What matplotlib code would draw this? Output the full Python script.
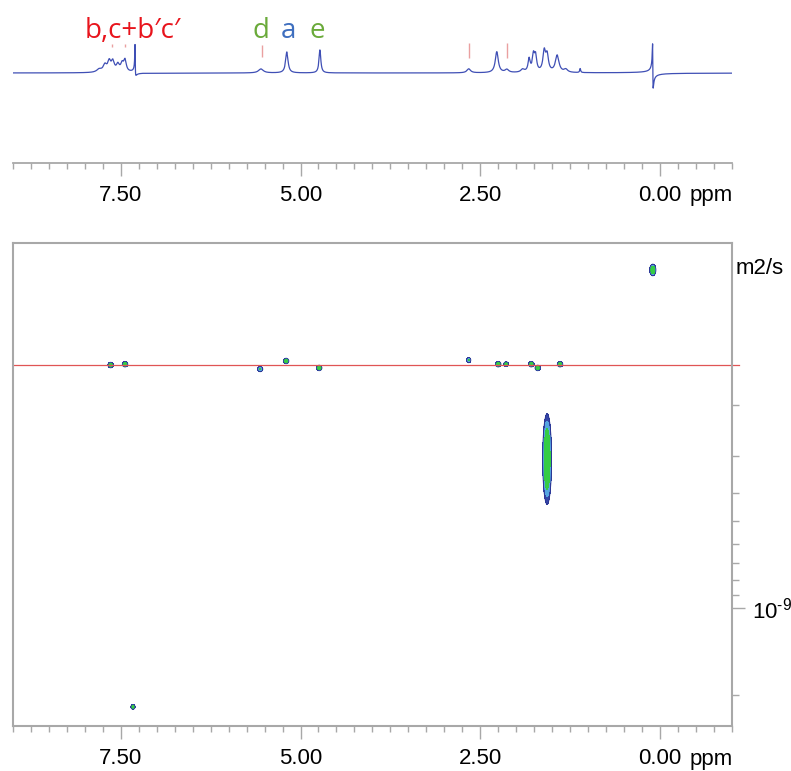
import numpy as np
import matplotlib.pyplot as plt
from matplotlib.ticker import MultipleLocator, FixedLocator, NullFormatter, FormatStrFormatter

plt.rcParams['font.family'] = ['Liberation Sans', 'DejaVu Sans']
plt.rcParams['mathtext.default'] = 'regular'

# 1D proton spectrum: peak table (ppm, height in px, half width in ppm, dispersive part)
peak_ppm = [7.80, 7.72, 7.66, 7.61, 7.54, 7.48, 7.44, 7.30, 5.55, 5.19, 4.73,
            2.66, 2.27, 2.13, 1.91, 1.82, 1.76, 1.73, 1.61, 1.57, 1.43, 1.31, 1.11, 0.10]
peak_height = [3, 7, 10, 10, 7, 8, 11, 25, 4, 21, 23,
               4, 21, 3, 3, 13, 16, 15, 20, 16, 17, 3, 4, 14]
peak_width = [0.04, 0.03, 0.025, 0.025, 0.025, 0.025, 0.02, 0.004, 0.04, 0.02, 0.015,
              0.03, 0.025, 0.03, 0.03, 0.018, 0.018, 0.018, 0.022, 0.022, 0.03, 0.03, 0.008, 0.004]
peak_disp = [0, 0, 0, 0, 0, 0, 0, 18, 0, 0, 0,
             0, 0, 0, 0, 0, 0, 0, 0, 0, 0, 0, 0, 42]

# assignment labels above the spectrum
label_text = ['b,c+b\u2032c\u2032', 'd', 'a', 'e']
label_ppm = [7.33, 5.55, 5.17, 4.77]
label_color = ['#e8141c', '#6aaa3a', '#3f6fbf', '#6aaa3a']

# pink integration marks
mark_ppm = [7.62, 7.44, 5.54, 2.66, 2.13]
mark_low = [26, 26, 16, 15, 15]
mark_high = [29, 29, 28, 30, 30]

# 2D DOSY cross peaks (ppm, log10 D)
cross_ppm = [7.64, 7.44, 5.56, 5.20, 4.74, 2.66, 2.25, 2.14, 1.79, 1.70, 1.39, 0.10, 1.57, 7.33]
cross_logd = [-9.838, -9.841, -9.824, -9.852, -9.828, -9.855, -9.841, -9.841,
              -9.841, -9.828, -9.841, -10.166, -9.514, -8.659]
cross_amp = [1, 1, 0.3, 1, 1, 0.3, 1, 0.5, 1, 1, 1, 1, 1, 1]
cross_sx = [0.016, 0.016, 0.02, 0.016, 0.016, 0.016, 0.016, 0.016, 0.016, 0.016, 0.016, 0.018, 0.026, 0.012]
cross_sy = [0.004, 0.004, 0.005, 0.004, 0.004, 0.005, 0.004, 0.004, 0.004, 0.004, 0.004, 0.0085, 0.066, 0.0035]

ref_logd = -9.838

W, H = 791, 771
GRAY = '#a8a8a8'


def px_box(left, top, right, bottom):
    return [left / W, 1 - bottom / H, (right - left) / W, (bottom - top) / H]


fig = plt.figure(figsize=(W / 100, H / 100), dpi=100)

# ---- 1D spectrum ----
ax1 = fig.add_axes(px_box(12.9, 30, 731.9, 163))
x = np.linspace(-1.0, 9.0, 20001)
y = np.zeros_like(x)
for p, h, w, d in zip(peak_ppm, peak_height, peak_width, peak_disp):
    u = (x - p) / w
    y += (h + d * u) / (1 + u ** 2)
ax1.plot(x, y, color='#3f4fb5', lw=0.9)
ax1.vlines(mark_ppm, mark_low, mark_high, color='#eaa0a0', lw=1.0)
ax1.set_xlim(9.0, -1.0)
ax1.set_ylim(-90, 43)
for s in ['left', 'right', 'top']:
    ax1.spines[s].set_visible(False)
ax1.spines['bottom'].set_color(GRAY)
ax1.spines['bottom'].set_linewidth(1.3)
ax1.set_yticks([])

for t, p, c in zip(label_text, label_ppm, label_color):
    ax1.text(p, 43 - 1, t, color=c, fontsize=20, family=['Open Sans', 'DejaVu Sans'],
             ha='center', va='center')


def style_ppm_axis(ax):
    ax.xaxis.set_major_locator(MultipleLocator(2.5))
    ax.xaxis.set_minor_locator(MultipleLocator(0.25))
    ax.xaxis.set_major_formatter(FormatStrFormatter('%.2f'))
    ax.tick_params(axis='x', which='major', direction='out', length=9, width=1, color=GRAY,
                   labelsize=16, pad=7)
    ax.tick_params(axis='x', which='minor', direction='out', length=4.5, width=1, color=GRAY)


style_ppm_axis(ax1)

# ---- 2D DOSY ----
ax2 = fig.add_axes(px_box(12.9, 243, 731.9, 726))
gx = np.linspace(-1.0, 9.0, 2001)
gy = np.linspace(-10.26, -8.59, 1201)
Z = np.zeros((gy.size, gx.size))
for p, l, a, sx, sy in zip(cross_ppm, cross_logd, cross_amp, cross_sx, cross_sy):
    Z += a * np.outer(np.exp(-0.5 * ((gy - l) / sy) ** 2), np.exp(-0.5 * ((gx - p) / sx) ** 2))
GX, GY = np.meshgrid(gx, 10 ** gy)
ax2.contourf(GX, GY, Z, levels=[0.06, 0.14, 0.28, 5],
             colors=['#3545a8', '#55a5e0', '#35cc45'])
ax2.contour(GX, GY, Z, levels=[0.06], colors=['#2a3590'], linewidths=0.6)

ax2.axhline(10 ** ref_logd, xmin=0, xmax=1.01, color='#e05555', lw=0.9, clip_on=False)

ax2.set_yscale('log')
ax2.set_xlim(9.0, -1.0)
ax2.set_ylim(10 ** -8.593, 10 ** -10.259)
for s in ax2.spines.values():
    s.set_color(GRAY)
    s.set_linewidth(1.5)

style_ppm_axis(ax2)
ax2.yaxis.tick_right()
ax2.yaxis.set_major_locator(FixedLocator([1e-9]))
ax2.set_yticklabels(['10$^{\u20109}$'])
ax2.yaxis.set_minor_locator(FixedLocator([k * 1e-10 for k in range(2, 10)] + [2e-9]))
ax2.yaxis.set_minor_formatter(NullFormatter())
ax2.tick_params(axis='y', which='major', direction='out', length=9.5, width=1, color=GRAY,
                labelsize=16, pad=5)
ax2.tick_params(axis='y', which='minor', direction='out', length=5, width=1, color=GRAY)

# axis unit texts
fig.text(690 / W, 1 - 195 / H, 'ppm', fontsize=16, ha='left', va='center')
fig.text(690 / W, 1 - 760 / H, 'ppm', fontsize=16, ha='left', va='center')
fig.text(736 / W, 1 - 268 / H, 'm2/s', fontsize=16, ha='left', va='center')

fig.savefig('out.png', dpi=100)
